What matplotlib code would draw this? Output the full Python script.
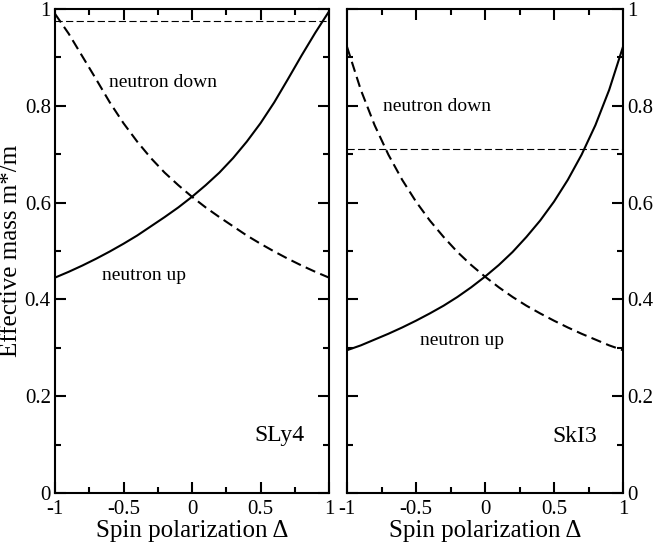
import matplotlib
matplotlib.use("Agg")
import matplotlib.pyplot as plt
from matplotlib.ticker import MultipleLocator, FormatStrFormatter

plt.rcParams['font.family'] = ['Liberation Serif', 'DejaVu Serif']
plt.rcParams['axes.unicode_minus'] = False

# spin polarization grid
delta = [-1.0, -0.9, -0.8, -0.7, -0.6, -0.5, -0.4, -0.3, -0.2, -0.1, 0.0,
         0.1, 0.2, 0.3, 0.4, 0.5, 0.6, 0.7, 0.8, 0.9, 1.0]

# SLy4
sly4_up = [0.445, 0.457, 0.470, 0.484, 0.499, 0.515, 0.532, 0.551, 0.570, 0.590, 0.612,
           0.636, 0.662, 0.692, 0.726, 0.764, 0.807, 0.855, 0.904, 0.951, 0.995]
sly4_down = [0.990, 0.949, 0.902, 0.855, 0.807, 0.764, 0.726, 0.692, 0.662, 0.636, 0.612,
             0.590, 0.570, 0.551, 0.532, 0.515, 0.499, 0.484, 0.470, 0.457, 0.445]
sly4_ref = 0.975

# SkI3
ski3_up = [0.295, 0.305, 0.317, 0.329, 0.342, 0.356, 0.371, 0.387, 0.405, 0.425, 0.447,
           0.471, 0.498, 0.529, 0.563, 0.602, 0.647, 0.699, 0.760, 0.833, 0.922]
ski3_down = ski3_up[::-1]
ski3_ref = 0.710

panels = [
    (sly4_up, sly4_down, sly4_ref, "SLy4",
     (-0.215, 0.849), (-0.35, 0.45), (0.635, 0.118)),
    (ski3_up, ski3_down, ski3_ref, "SkI3",
     (-0.345, 0.798), (-0.17, 0.316), (0.65, 0.116)),
]

fig = plt.figure(figsize=(6.54, 5.45), dpi=100)
ax1 = fig.add_axes([55 / 654, 52 / 545, 274 / 654, 484 / 545])
ax2 = fig.add_axes([347 / 654, 52 / 545, 276 / 654, 484 / 545])

for ax, (up, down, ref, name, pos_down, pos_up, pos_name) in zip([ax1, ax2], panels):
    ax.plot(delta, up, color='black', lw=1.5, ls='-')
    ax.plot(delta, down, color='black', lw=1.5, ls=(0, (5, 2.6)))
    ax.axhline(ref, color='black', lw=0.8, ls=(0, (6.5, 3)))
    ax.text(pos_down[0], pos_down[1], "neutron down", fontsize=14, ha='center', va='center')
    ax.text(pos_up[0], pos_up[1], "neutron up", fontsize=14, ha='center', va='center')
    ax.text(pos_name[0], pos_name[1], name, fontsize=17, ha='center', va='center')

    ax.set_xlim(-1, 1)
    ax.set_ylim(0, 1)
    ax.xaxis.set_major_locator(MultipleLocator(0.5))
    ax.xaxis.set_minor_locator(MultipleLocator(0.25))
    ax.yaxis.set_major_locator(MultipleLocator(0.2))
    ax.yaxis.set_minor_locator(MultipleLocator(0.1))
    ax.xaxis.set_major_formatter(FormatStrFormatter('%g'))
    ax.yaxis.set_major_formatter(FormatStrFormatter('%g'))
    ax.tick_params(which='both', direction='in', top=True, bottom=True,
                   left=True, right=True, width=1.5, labelsize=15, pad=3)
    ax.tick_params(axis='x', which='major', pad=5)
    ax.tick_params(which='major', length=8)
    ax.tick_params(which='minor', length=4)
    for sp in ax.spines.values():
        sp.set_linewidth(1.5)
    ax.set_xlabel("Spin polarization Δ", fontsize=18, labelpad=1)

ax2.tick_params(labelleft=False, labelright=True)

fig.text(11 / 654, 1 - 251 / 545, "Effective mass m*/m", fontsize=18,
         rotation=90, ha='center', va='center')

fig.savefig("out.png", dpi=100)
